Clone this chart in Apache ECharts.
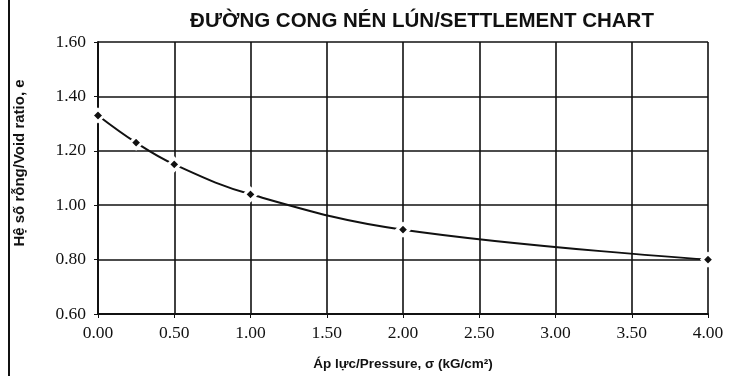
<!DOCTYPE html>
<html>
<head>
<meta charset="utf-8">
<script src="https://cdn.jsdelivr.net/npm/echarts@6/dist/echarts.min.js"></script>
<style>
html,body{margin:0;padding:0;background:#fff;}
#c{width:735px;height:376px;}
</style>
</head>
<body>
<div id="c"></div>
<script>
const titleText = 'ĐƯỜNG CONG NÉN LÚN/SETTLEMENT CHART';
const xName = 'Áp lực/Pressure, σ (kG/cm²)';
const yName = 'Hệ số rỗng/Void ratio, e';
const pressure = [0, 0.25, 0.5, 1, 2, 4];
const voidRatio = [1.33, 1.23, 1.15, 1.04, 0.91, 0.80];
const xTicks = [0, 0.5, 1, 1.5, 2, 2.5, 3, 3.5, 4];
const yTicks = [0.6, 0.8, 1.0, 1.2, 1.4, 1.6];

const chart = echarts.init(document.getElementById('c'), null, {renderer: 'canvas'});
const sans = '"Liberation Sans Narrow", "Liberation Sans", Arial, sans-serif';
const serif = '"Liberation Serif", "DejaVu Serif", serif';
chart.setOption({
  backgroundColor: '#ffffff',
  animation: false,
  title: {
    text: titleText,
    left: 417, top: 6, textAlign: 'center',
    textStyle: {fontFamily: sans, fontWeight: 'bold', fontSize: 20.5, color: '#111'}
  },
  graphic: [{
    type: 'line', shape: {x1: 9, y1: 0, x2: 9, y2: 376},
    style: {stroke: '#111', lineWidth: 2}
  }, {
    type: 'text', x: 20, y: 163, rotation: Math.PI / 2,
    style: {text: yName, fontFamily: sans, fontWeight: 'bold', fontSize: 15, fill: '#111',
      textAlign: 'center', textVerticalAlign: 'middle'}
  }],
  grid: {left: 98, right: 27, top: 42, bottom: 61},
  xAxis: {
    type: 'value', min: xTicks[0], max: xTicks[xTicks.length - 1], interval: 0.5,
    name: xName, nameLocation: 'middle', nameGap: 43,
    nameTextStyle: {fontFamily: sans, fontWeight: 'bold', fontSize: 13.5, color: '#111'},
    axisLine: {show: true, lineStyle: {color: '#111', width: 2}},
    axisTick: {show: true, length: 4, lineStyle: {color: '#111', width: 1}},
    axisLabel: {fontFamily: serif, fontSize: 17.5, color: '#111', margin: 10,
      formatter: v => v.toFixed(2)},
    splitLine: {show: true, lineStyle: {color: '#111', width: 1.6}}
  },
  yAxis: {
    type: 'value', min: yTicks[0], max: yTicks[yTicks.length - 1], interval: 0.2,
    axisLine: {show: true, lineStyle: {color: '#111', width: 2}},
    axisTick: {show: true, length: 4, lineStyle: {color: '#111', width: 1}},
    axisLabel: {fontFamily: serif, fontSize: 17.5, color: '#111', margin: 12,
      formatter: v => v.toFixed(2)},
    splitLine: {show: true, lineStyle: {color: '#111', width: 1.6}}
  },
  series: [{
    type: 'line',
    data: pressure.map((p, i) => [p, voidRatio[i]]),
    smooth: 0.4,
    symbol: 'diamond', symbolSize: 12,
    itemStyle: {color: '#111', borderColor: '#fff', borderWidth: 3},
    lineStyle: {color: '#111', width: 2},
    z: 5
  }]
});
</script>
</body>
</html>
